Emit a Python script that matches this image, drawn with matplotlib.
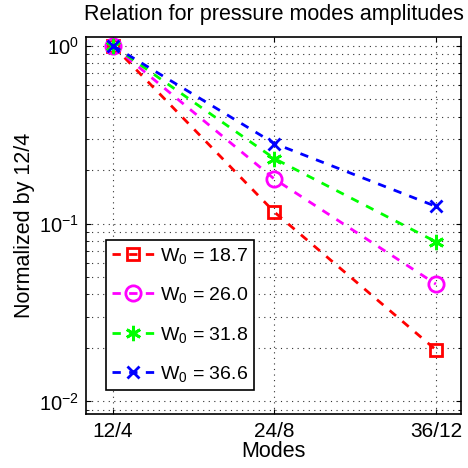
import matplotlib.pyplot as plt

plt.rcParams['font.family'] = ['Liberation Sans', 'DejaVu Sans']
plt.rcParams['mathtext.fontset'] = 'custom'
plt.rcParams['mathtext.rm'] = 'Liberation Sans'
plt.rcParams['mathtext.it'] = 'Liberation Sans:italic'

# data
modes = ['12/4', '24/8', '36/12']
w0_labels = ['18.7', '26.0', '31.8', '36.6']
amp_187 = [1.0, 0.116, 0.0195]
amp_260 = [1.0, 0.178, 0.0457]
amp_318 = [1.0, 0.232, 0.079]
amp_366 = [1.0, 0.282, 0.125]

series = [amp_187, amp_260, amp_318, amp_366]
colors = ['#ff0000', '#ff00ff', '#00ff00', '#0000ff']
markers = ['s', 'o', (6, 2, 0), 'x']
msizes = [9, 11, 11, 9]

fig = plt.figure(figsize=(4.68, 4.68), dpi=100)
ax = fig.add_axes([0.1838, 0.1154, 0.801, 0.8056])

x = [1, 2, 3]
for vals, c, m, ms, lab in zip(series, colors, markers, msizes, w0_labels):
    ax.plot(x, vals, linestyle='--', color=c, lw=2, marker=m, ms=ms,
            mfc='none', mec=c, mew=2,
            dashes=(3, 3), label=r'W$_0$ = ' + lab)

ax.set_yscale('log')
ax.set_ylim(0.0085, 1.12)
ax.set_xlim(0.833, 3.155)
ax.set_xticks(x)
ax.set_xticklabels(modes)
ax.grid(True, which='both', linestyle=(0, (1, 4)), color='#303030', lw=0.8)
ax.tick_params(which='both', direction='in', top=True, right=True)
ax.tick_params(axis='x', labelsize=15, pad=6)
ax.tick_params(axis='y', labelsize=14.5, pad=5)
for s in ax.spines.values():
    s.set_linewidth(1.2)

ax.set_title('Relation for pressure modes amplitudes', fontsize=15.5, pad=12)
ax.set_xlabel('Modes', fontsize=15.5, labelpad=0)
ax.set_ylabel('Normalized by 12/4', fontsize=15.5, labelpad=3)

leg = ax.legend(loc='lower left', bbox_to_anchor=(0.053, 0.064), fontsize=14,
                fancybox=False, edgecolor='black', framealpha=1,
                handlelength=2.2, handletextpad=0.3, borderpad=0.3,
                labelspacing=1.0, borderaxespad=0)
leg.get_frame().set_linewidth(1.2)

fig.savefig('out.png', dpi=100)
